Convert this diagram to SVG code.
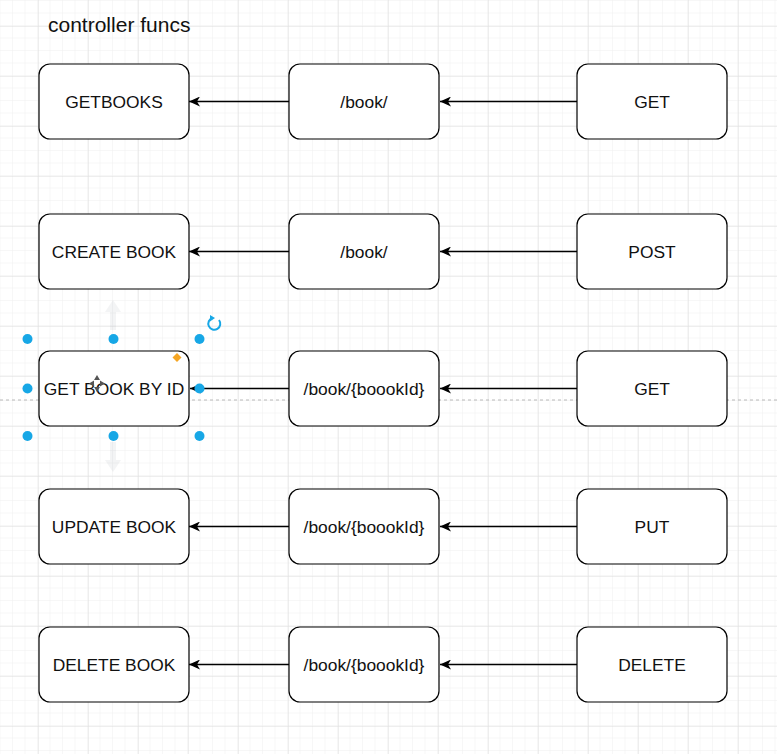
<svg xmlns="http://www.w3.org/2000/svg" width="777" height="754" viewBox="0 0 777 754">
<defs>
<pattern id="minor" x="0.5" y="1" width="12.5" height="12.5" patternUnits="userSpaceOnUse">
<path d="M12.5 0 V12.5 M0 12.5 H12.5" fill="none" stroke="#efefef" stroke-width="1"/>
</pattern>
<pattern id="major" x="38" y="26" width="50" height="50" patternUnits="userSpaceOnUse">
<path d="M0 0 V50 M0 0 H50" fill="none" stroke="#dedede" stroke-width="1"/>
</pattern>
<marker id="arr" markerWidth="12" markerHeight="10" refX="11" refY="5" orient="auto" markerUnits="userSpaceOnUse">
<path d="M0 0 L11 5 L0 10 L3 5 Z" fill="#000"/>
</marker>
<style>
.box{fill:#fff;stroke:#000;stroke-width:1.2}
.lbl{font-family:"Liberation Sans",Arial,sans-serif;font-size:17.4px;fill:#111;text-anchor:middle}
.edge{stroke:#000;stroke-width:1.3;fill:none;marker-end:url(#arr)}
.h{fill:#17a7e6}
</style>
</defs>
<rect width="777" height="754" fill="#fff"/>
<rect width="777" height="754" fill="url(#minor)"/>
<rect width="777" height="754" fill="url(#major)"/>
<line x1="0" y1="400" x2="777" y2="400" stroke="#b8b8b8" stroke-width="1" stroke-dasharray="3 3"/>
<g id="ghosts" opacity="0.07" fill="#607080">
<path d="M113 300 L121 312 L116 312 L116 330 L110 330 L110 312 L105 312 Z"/>
<path d="M113 472 L121 460 L116 460 L116 442 L110 442 L110 460 L105 460 Z"/>
</g>
<text x="48" y="32" font-family="Liberation Sans,Arial,sans-serif" font-size="21px" fill="#111">controller funcs</text>
<g id="connectors">
<line class="edge" x1="577" y1="101.5" x2="440" y2="101.5"/>
<line class="edge" x1="289" y1="101.5" x2="189" y2="101.5"/>
<line class="edge" x1="577" y1="251.5" x2="440" y2="251.5"/>
<line class="edge" x1="289" y1="251.5" x2="189" y2="251.5"/>
<line class="edge" x1="577" y1="388.5" x2="440" y2="388.5"/>
<line class="edge" x1="289" y1="388.5" x2="190" y2="388.5"/>
<line class="edge" x1="577" y1="526.5" x2="440" y2="526.5"/>
<line class="edge" x1="289" y1="526.5" x2="189" y2="526.5"/>
<line class="edge" x1="577" y1="664.5" x2="440" y2="664.5"/>
<line class="edge" x1="289" y1="664.5" x2="189" y2="664.5"/>
</g>
<g id="n-getbooks"><rect class="box" x="39" y="64" width="150" height="75" rx="11"/><text class="lbl" x="114" y="107.5">GETBOOKS</text></g>
<g id="n-book1"><rect class="box" x="289" y="64" width="150" height="75" rx="11"/><text class="lbl" x="364" y="107.5">/book/</text></g>
<g id="n-get1"><rect class="box" x="577" y="64" width="150" height="75" rx="11"/><text class="lbl" x="652" y="107.5">GET</text></g>
<g id="n-create"><rect class="box" x="39" y="214" width="150" height="75" rx="11"/><text class="lbl" x="114" y="257.5">CREATE BOOK</text></g>
<g id="n-book2"><rect class="box" x="289" y="214" width="150" height="75" rx="11"/><text class="lbl" x="364" y="257.5">/book/</text></g>
<g id="n-post"><rect class="box" x="577" y="214" width="150" height="75" rx="11"/><text class="lbl" x="652" y="257.5">POST</text></g>
<g id="n-getbyid"><rect class="box" x="39" y="351" width="150" height="75" rx="11"/><text class="lbl" x="114" y="394.5">GET BOOK BY ID</text></g>
<g id="n-book3"><rect class="box" x="289" y="351" width="150" height="75" rx="11"/><text class="lbl" x="364" y="394.5">/book/{boookId}</text></g>
<g id="n-get2"><rect class="box" x="577" y="351" width="150" height="75" rx="11"/><text class="lbl" x="652" y="394.5">GET</text></g>
<g id="n-update"><rect class="box" x="39" y="489" width="150" height="75" rx="11"/><text class="lbl" x="114" y="532.5">UPDATE BOOK</text></g>
<g id="n-book4"><rect class="box" x="289" y="489" width="150" height="75" rx="11"/><text class="lbl" x="364" y="532.5">/book/{boookId}</text></g>
<g id="n-put"><rect class="box" x="577" y="489" width="150" height="75" rx="11"/><text class="lbl" x="652" y="532.5">PUT</text></g>
<g id="n-delete"><rect class="box" x="39" y="627" width="150" height="75" rx="11"/><text class="lbl" x="114" y="670.5">DELETE BOOK</text></g>
<g id="n-book5"><rect class="box" x="289" y="627" width="150" height="75" rx="11"/><text class="lbl" x="364" y="670.5">/book/{boookId}</text></g>
<g id="n-delete-m"><rect class="box" x="577" y="627" width="150" height="75" rx="11"/><text class="lbl" x="652" y="670.5">DELETE</text></g>
<g id="selection">
<circle class="h" cx="27.5" cy="339" r="5"/>
<circle class="h" cx="113.5" cy="339" r="5"/>
<circle class="h" cx="199.5" cy="339" r="5"/>
<circle class="h" cx="27.5" cy="388.5" r="5"/>
<circle class="h" cx="199.5" cy="388.5" r="5"/>
<circle class="h" cx="27.5" cy="436" r="5"/>
<circle class="h" cx="113.5" cy="436" r="5"/>
<circle class="h" cx="199.5" cy="436" r="5"/>
<path d="M177 353 L181.5 357.5 L177 362 L172.5 357.5 Z" fill="#f5a623"/>
<path d="M219 320 A6 6 0 1 1 212.5 318" fill="none" stroke="#17a7e6" stroke-width="2"/>
<path d="M210 315 L215 318 L210 321.5 Z" fill="#17a7e6"/>
<g fill="#555">
<path d="M97 375 L100 380 L94 380 Z"/>
<path d="M97 392 L100 387 L94 387 Z"/>
<path d="M89 383.5 L94 380.5 L94 386.5 Z"/>
<path d="M105 383.5 L100 380.5 L100 386.5 Z"/>
</g>
</g>
</svg>
